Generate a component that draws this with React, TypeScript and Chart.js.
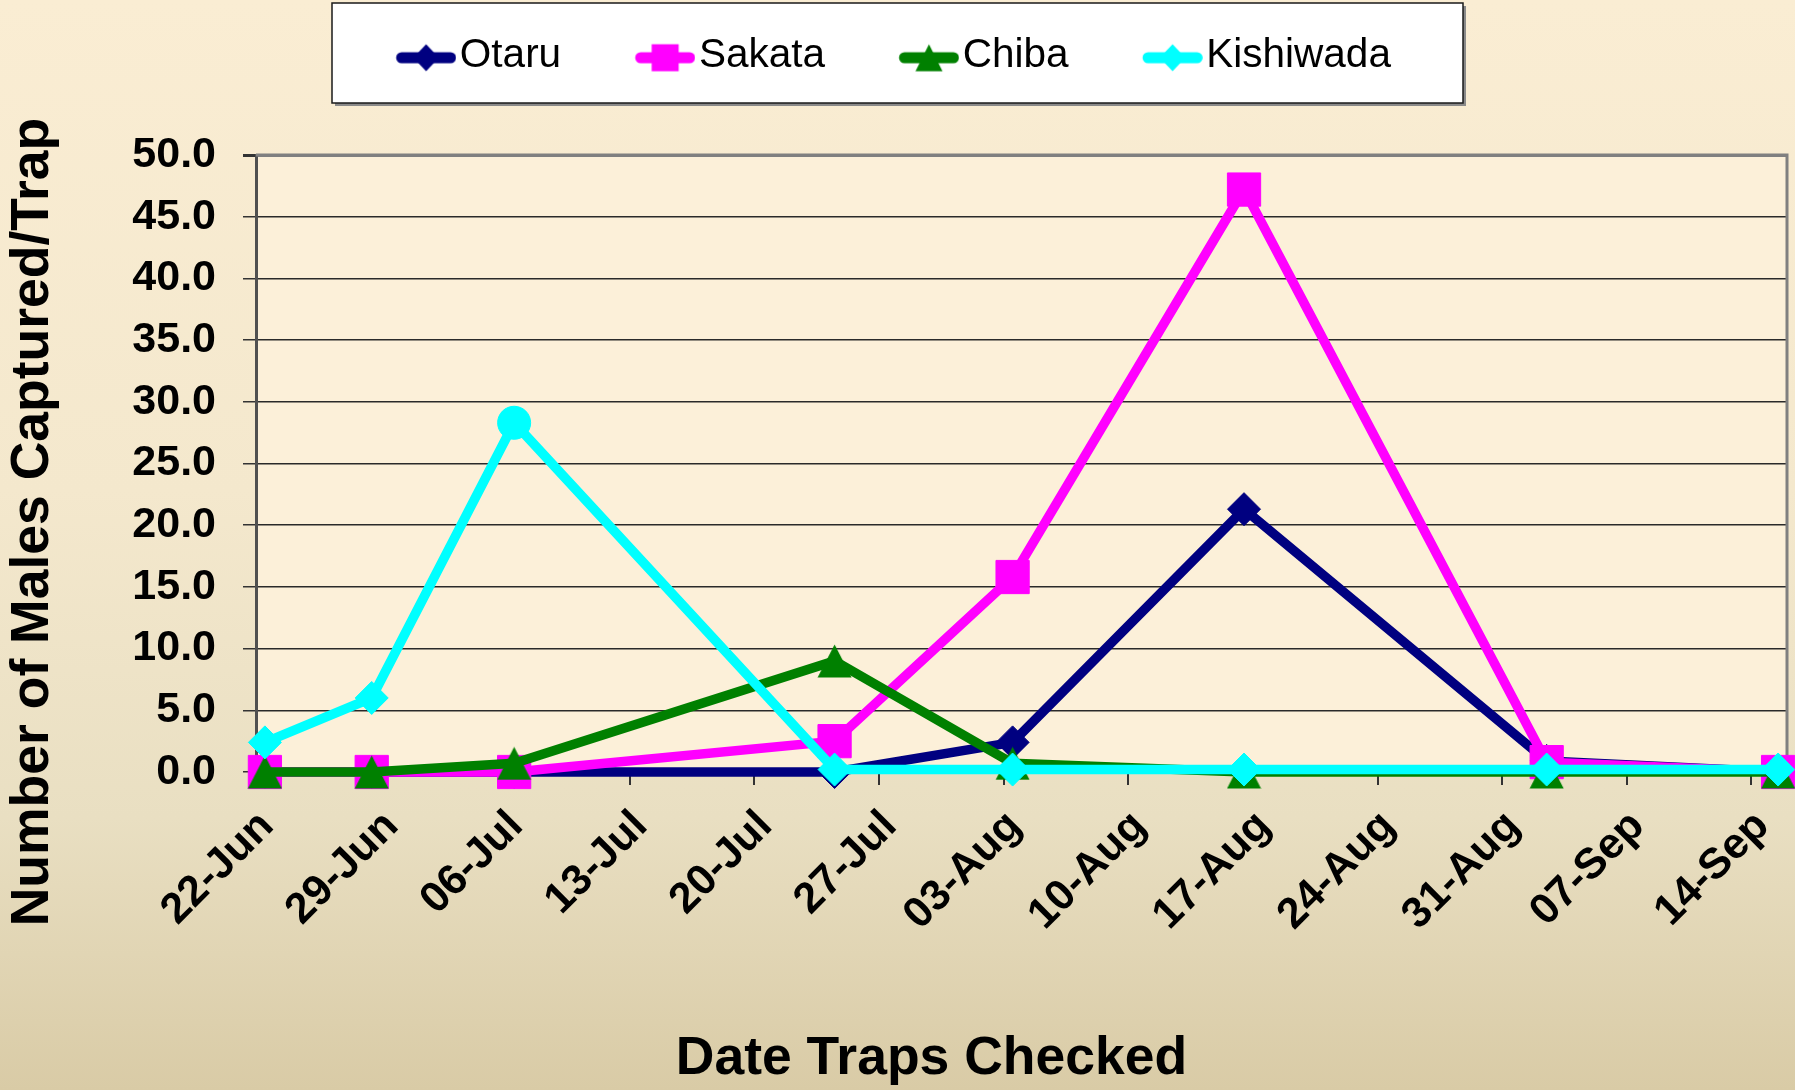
import React, { useEffect, useRef } from "react";
import { Chart, registerables } from "chart.js";

Chart.register(...registerables);

const W = 1795;
const H = 1090;
const FONT = "'Liberation Sans', Arial, Helvetica, sans-serif";

// ---------------- data ----------------
const axisStart = "2009-06-22";
const checkDates = [
  "2009-06-22",
  "2009-06-28",
  "2009-07-06",
  "2009-07-24",
  "2009-08-03",
  "2009-08-16",
  "2009-09-02",
  "2009-09-15",
];
const otaru = [0, 0, 0, 0, 2.4, 21.3, 0.9, 0];
const sakata = [0, 0, 0, 2.5, 15.8, 47.2, 0.8, 0];
const chiba = [0, 0, 0.7, 9.0, 0.7, 0, 0, 0];
const kishiwada = [2.4, 6.0, 28.3, 0.2, 0.2, 0.2, 0.2, 0.2];
const kishiwadaMarkers = ["rectRot", "rectRot", "circle", "rectRot", "rectRot", "rectRot", "rectRot", "rectRot"];

const tickLabels = [
  "22-Jun", "29-Jun", "06-Jul", "13-Jul", "20-Jul", "27-Jul", "03-Aug",
  "10-Aug", "17-Aug", "24-Aug", "31-Aug", "07-Sep", "14-Sep",
];
const tickStepDays = 7;
const yMin = 0;
const yMax = 50;
const yStep = 5;

const seriesNames = ["Otaru", "Sakata", "Chiba", "Kishiwada"];
const seriesColors = ["#000080", "#FF00FF", "#008000", "#00FFFF"];
const xTitle = "Date Traps Checked";
const yTitle = "Number of Males Captured/Trap";

// ---------------- helpers ----------------
const DAY = 86400000;
const dayIndex = (d: string) => Math.round((Date.parse(d) - Date.parse(axisStart)) / DAY);

function makeCanvas(w: number, h: number, draw: (ctx: CanvasRenderingContext2D) => void) {
  const c = document.createElement("canvas");
  c.width = w;
  c.height = h;
  const ctx = c.getContext("2d")!;
  draw(ctx);
  return c;
}

function drawMarker(ctx: CanvasRenderingContext2D, kind: string, cx: number, cy: number, s: number, color: string) {
  ctx.fillStyle = color;
  ctx.beginPath();
  if (kind === "diamond") {
    ctx.moveTo(cx, cy - s);
    ctx.lineTo(cx + s * 0.95, cy);
    ctx.lineTo(cx, cy + s);
    ctx.lineTo(cx - s * 0.95, cy);
  } else if (kind === "square") {
    ctx.rect(cx - s, cy - s, 2 * s, 2 * s);
  } else if (kind === "triangle") {
    ctx.moveTo(cx, cy - s);
    ctx.lineTo(cx + s, cy + s);
    ctx.lineTo(cx - s, cy + s);
  } else {
    ctx.arc(cx, cy, s, 0, Math.PI * 2);
  }
  ctx.closePath();
  ctx.fill();
}

const legendKinds = ["diamond", "square", "triangle", "diamond"];

export default function App() {
  const ref = useRef<HTMLCanvasElement>(null);

  useEffect(() => {
    const canvas = ref.current!;
    const xs = checkDates.map(dayIndex);
    const toPoints = (vals: number[]) => vals.map((v, i) => ({ x: xs[i], y: v }));

    // triangle marker (box-centred, as in the original)
    const triImg = makeCanvas(35, 34, (ctx) => {
      ctx.fillStyle = seriesColors[2];
      ctx.beginPath();
      ctx.moveTo(17.5, 0.5);
      ctx.lineTo(34.5, 33.5);
      ctx.lineTo(0.5, 33.5);
      ctx.closePath();
      ctx.fill();
    });

    // legend icons: line + marker
    const LEG_FONT = 40.5;
    const LEG_BOX_W = 43.5;
    const ICON_W = 60;
    const imgW = 77;
    const imgH = 36;
    const iconCx = imgW / 2 + (ICON_W / 2 - LEG_BOX_W / 2);
    const iconCy = imgH / 2 + 2;
    const legendIcons = seriesColors.map((col, i) =>
      makeCanvas(imgW, imgH, (ctx) => {
        ctx.strokeStyle = col;
        ctx.lineWidth = 11;
        ctx.lineCap = "round";
        ctx.beginPath();
        ctx.moveTo(iconCx - ICON_W / 2 + 5.5, iconCy);
        ctx.lineTo(iconCx + ICON_W / 2 - 5.5, iconCy);
        ctx.stroke();
        drawMarker(ctx, legendKinds[i], iconCx, iconCy, 13.5, col);
      })
    );

    const LEG_PAD = 74;
    const LEG_ITEM_TOP = 35.5;
    const PLOT_TOP = 155;
    const PLOT_LEFT = 256;
    const X_AXIS_H = 318;

    const mk = (i: number, vals: number[], extra: any) => ({
      label: seriesNames[i],
      data: toPoints(vals),
      borderColor: seriesColors[i],
      backgroundColor: seriesColors[i],
      pointBackgroundColor: seriesColors[i],
      pointBorderColor: seriesColors[i],
      pointBorderWidth: 1,
      borderWidth: 9.5,
      tension: 0,
      clip: false,
      order: 4 - i,
      ...extra,
    });

    const datasets = [
      mk(0, otaru, { pointStyle: "rectRot", pointRadius: 16.5 }),
      mk(1, sakata, { pointStyle: "rect", pointRadius: 23.5 }),
      mk(2, chiba, { pointStyle: triImg, pointRadius: 17 }),
      mk(3, kishiwada, { pointStyle: kishiwadaMarkers, pointRadius: 16.5 }),
    ];

    const decor = {
      id: "decor",
      beforeLayout(chart: any) {
        const lg = chart.legend;
        if (lg && !lg.__patched) {
          const orig = lg.fit;
          lg.fit = function () {
            orig.call(this);
            this.height = PLOT_TOP - (LEG_ITEM_TOP - LEG_PAD);
          };
          lg.__patched = true;
        }
      },
      beforeDraw(chart: any) {
        const { ctx, chartArea: a } = chart;
        ctx.save();
        const g = ctx.createLinearGradient(0, 0, 0, H);
        g.addColorStop(0, "#FAEDD3");
        g.addColorStop(0.45, "#F4E8CD");
        g.addColorStop(0.75, "#E9DFC2");
        g.addColorStop(1, "#D9CBA6");
        ctx.fillStyle = g;
        ctx.fillRect(0, 0, W, H);
        ctx.fillStyle = "#FCF0D9";
        ctx.fillRect(a.left, a.top, a.right - a.left, a.bottom - a.top);
        // legend frame
        const bw = 1131;
        const bx = Math.round(W / 2 - bw / 2);
        const by = 3;
        const bh = 100;
        ctx.fillStyle = "#8a8a8a";
        ctx.fillRect(bx + 3, by + 3, bw, bh);
        ctx.fillStyle = "#ffffff";
        ctx.fillRect(bx, by, bw, bh);
        ctx.strokeStyle = "#1a1a1a";
        ctx.lineWidth = 1.5;
        ctx.strokeRect(bx, by, bw, bh);
        ctx.restore();
      },
      beforeDatasetsDraw(chart: any) {
        const { ctx, chartArea: a } = chart;
        ctx.save();
        ctx.strokeStyle = "#808080";
        ctx.lineWidth = 3;
        ctx.beginPath();
        ctx.moveTo(a.left, a.top);
        ctx.lineTo(a.right, a.top);
        ctx.lineTo(a.right, a.bottom);
        ctx.stroke();
        ctx.restore();
      },
      afterDraw(chart: any) {
        const { ctx } = chart;
        ctx.save();
        ctx.fillStyle = "#000";
        ctx.font = `bold 53.5px ${FONT}`;
        ctx.textAlign = "center";
        ctx.textBaseline = "middle";
        ctx.fillText(xTitle, 931.5, 1059);
        ctx.translate(33, 522);
        ctx.rotate(-Math.PI / 2);
        ctx.fillText(yTitle, 0, 0);
        ctx.restore();
      },
    };

    const firstDay = 0;
    const lastDay = Math.max(...xs);

    const chart = new Chart(canvas, {
      type: "line",
      data: { datasets } as any,
      options: {
        responsive: false,
        animation: false,
        events: [],
        layout: {
          autoPadding: false,
          padding: { top: LEG_ITEM_TOP - LEG_PAD, right: 8, bottom: 0, left: 0 },
        },
        plugins: {
          tooltip: { enabled: false },
          legend: {
            position: "top",
            labels: {
              usePointStyle: true,
              pointStyleWidth: LEG_BOX_W,
              padding: LEG_PAD,
              color: "#000",
              font: { family: FONT, size: LEG_FONT },
              generateLabels: () =>
                seriesNames.map((name, i) => ({
                  text: name,
                  pointStyle: legendIcons[i],
                  fillStyle: seriesColors[i],
                  strokeStyle: seriesColors[i],
                  lineWidth: 0,
                  hidden: false,
                  datasetIndex: i,
                })) as any,
            },
          },
        },
        scales: {
          x: {
            type: "linear",
            min: firstDay - 0.5,
            max: lastDay + 0.5,
            afterBuildTicks: (s: any) => {
              s.ticks = tickLabels.map((_, i) => ({ value: firstDay + i * tickStepDays - 0.5 }));
            },
            afterFit: (s: any) => {
              s.height = X_AXIS_H;
              s.paddingRight = 0;
            },
            ticks: {
              autoSkip: false,
              minRotation: 45,
              maxRotation: 45,
              labelOffset: 11,
              padding: 16,
              color: "#000",
              font: { family: FONT, size: 43, weight: "bold" },
              callback: (_v: any, i: number) => tickLabels[i],
            },
            grid: {
              drawOnChartArea: false,
              drawTicks: true,
              tickLength: 13,
              color: "#333333",
              lineWidth: 2,
            },
            border: { display: true, color: "#333333", width: 2 },
          },
          y: {
            type: "linear",
            min: yMin,
            max: yMax,
            afterFit: (s: any) => {
              s.width = PLOT_LEFT;
            },
            ticks: {
              stepSize: yStep,
              padding: 27,
              color: "#000",
              font: { family: FONT, size: 43, weight: "bold" },
              callback: (v: any) => Number(v).toFixed(1),
            },
            grid: {
              drawTicks: true,
              tickLength: 13,
              tickColor: "#333333",
              color: (c: any) => (c.tick && c.tick.value === yMax ? "#808080" : "#2a2a2a"),
              lineWidth: (c: any) => (c.tick && c.tick.value === yMax ? 3 : 1.5),
            },
            border: { display: true, color: "#505050", width: 3 },
          },
        },
      } as any,
      plugins: [decor as any],
    });

    return () => chart.destroy();
  }, []);

  return (
    <div style={{ position: "absolute", left: 0, top: 0, width: W, height: H, overflow: "hidden" }}>
      <canvas ref={ref} width={W} height={H} style={{ display: "block", width: W, height: H }} />
    </div>
  );
}
